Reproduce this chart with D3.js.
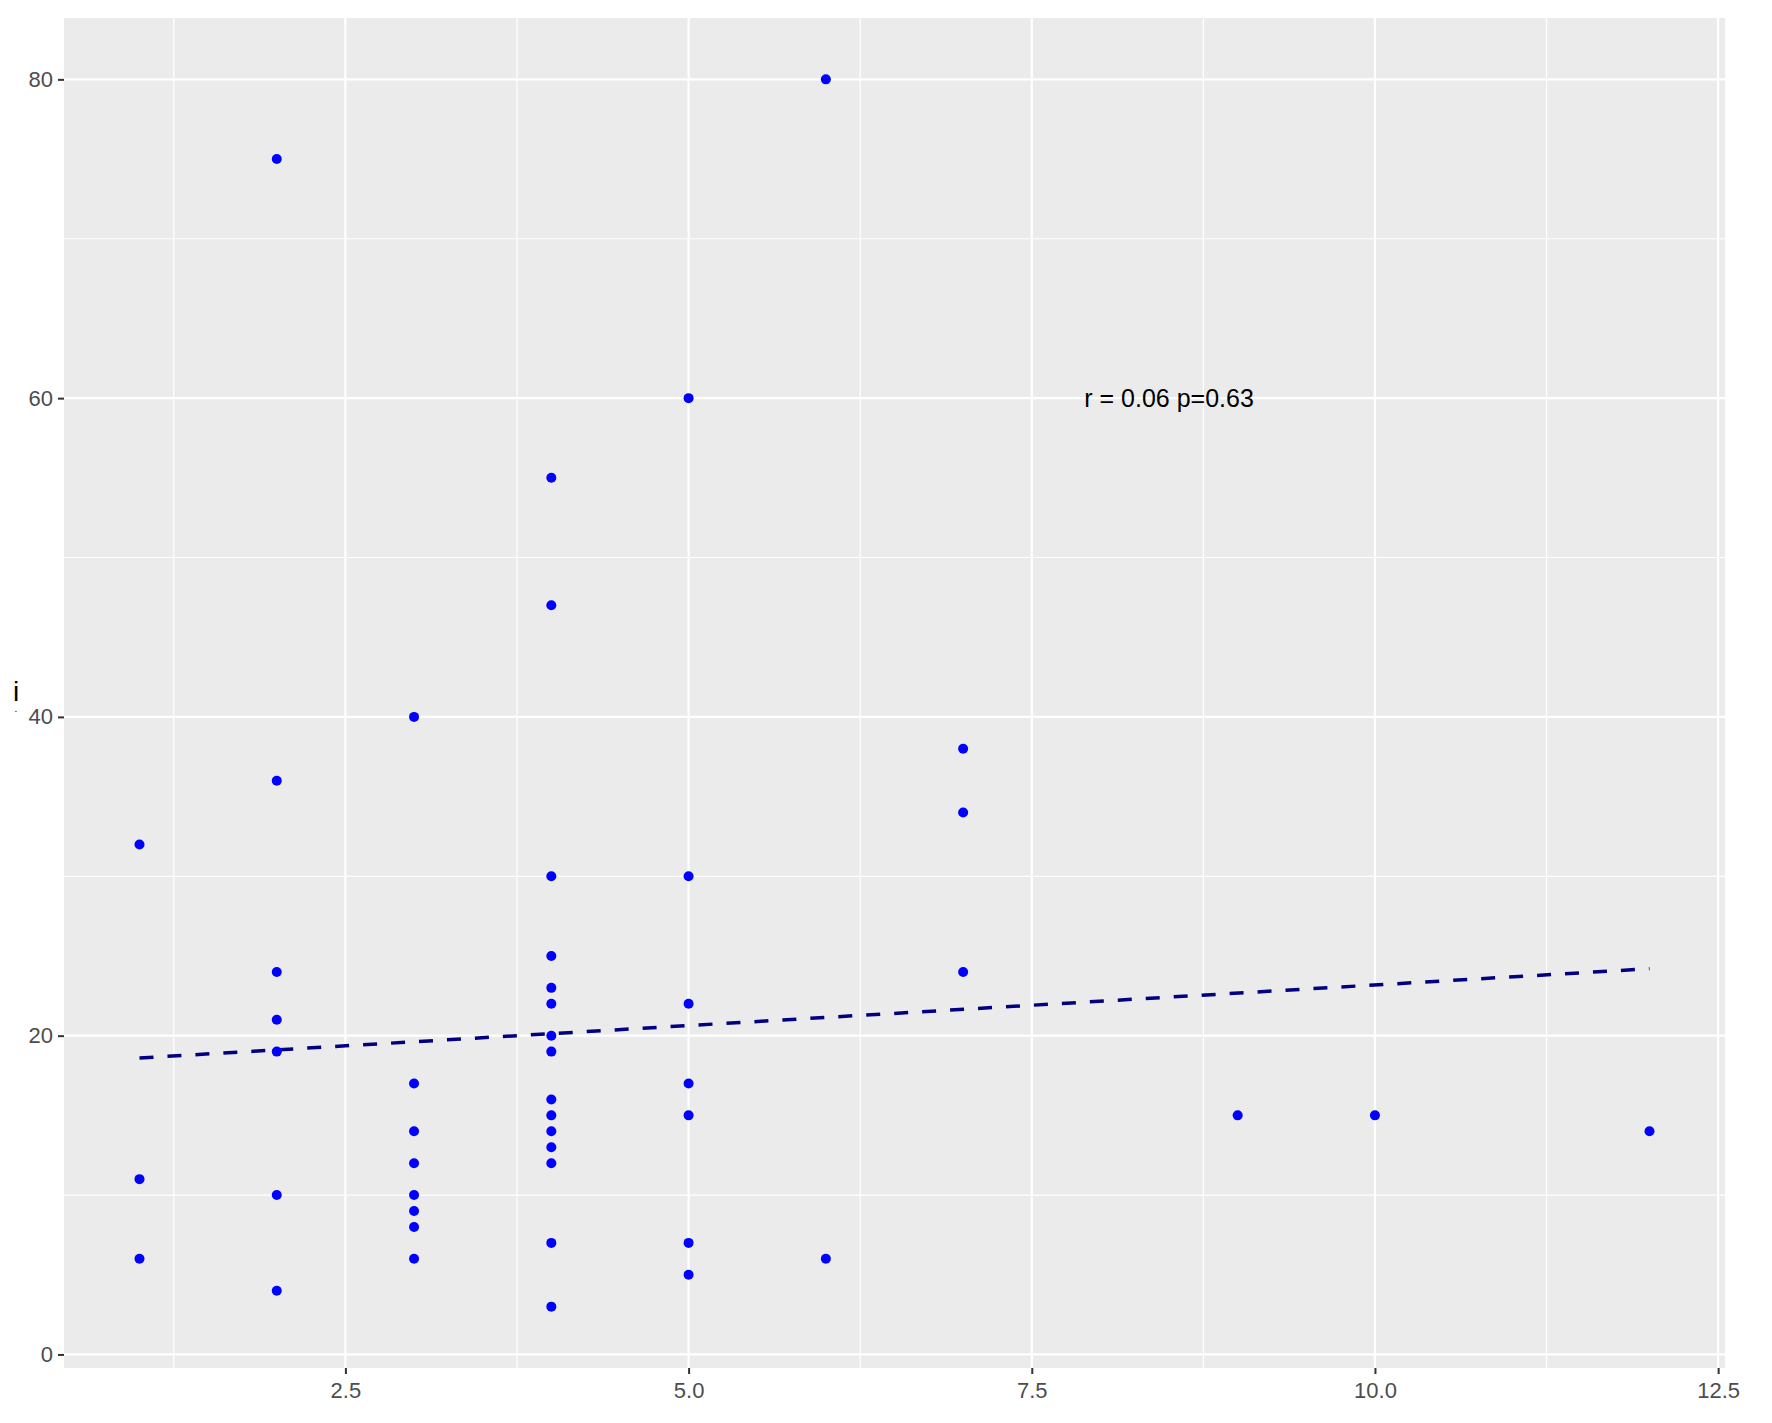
<!DOCTYPE html>
<html>
<head>
<meta charset="utf-8">
<script src="https://cdn.jsdelivr.net/npm/d3@7"></script>
<style>
  body { margin: 0; background: #fff; }
  text { font-family: "Liberation Sans", Arial, sans-serif; }
</style>
</head>
<body>
<div id="chart"></div>
<script>
// points (x, y pairs)
var xVals = [1, 1, 1,
  2, 2, 2, 2, 2, 2, 2,
  3, 3, 3, 3, 3, 3, 3, 3,
  4, 4, 4, 4, 4, 4, 4, 4, 4, 4, 4, 4, 4, 4, 4,
  5, 5, 5, 5, 5, 5, 5,
  6, 6,
  7, 7, 7,
  9, 10, 12];
var yVals = [32, 11, 6,
  75, 36, 24, 21, 19, 10, 4,
  40, 17, 14, 12, 10, 9, 8, 6,
  55, 47, 30, 25, 23, 22, 20, 19, 16, 15, 14, 13, 12, 7, 3,
  60, 30, 22, 17, 15, 7, 5,
  80, 6,
  38, 34, 24,
  15, 15, 14];

// dashed fit line ends
var fitX = [1, 12];
var fitY = [18.6, 24.2];

var xTicks = [2.5, 5.0, 7.5, 10.0, 12.5];
var xMinor = [1.25, 3.75, 6.25, 8.75, 11.25];
var yTicks = [0, 20, 40, 60, 80];
var yMinor = [10, 30, 50, 70];

var annotation = "r = 0.06 p=0.63";

var svgWidth = 1772;
var svgHeight = 1423;

var panel = { left: 64, right: 1725, top: 18, bottom: 1368 };

var svg = d3.select("#chart")
  .append("svg")
  .attr("width", svgWidth)
  .attr("height", svgHeight);

var x = d3.scaleLinear()
  .domain([0.45, 12.55])
  .range([panel.left, panel.right]);

var y = d3.scaleLinear()
  .domain([-0.85, 83.85])
  .range([panel.bottom, panel.top]);

// panel background
svg.append("rect")
  .attr("x", panel.left)
  .attr("y", panel.top)
  .attr("width", panel.right - panel.left)
  .attr("height", panel.bottom - panel.top)
  .attr("fill", "#EBEBEB");

// minor grid
svg.append("g").selectAll("line")
  .data(xMinor)
  .enter().append("line")
  .attr("x1", d => x(d)).attr("x2", d => x(d))
  .attr("y1", panel.top).attr("y2", panel.bottom)
  .attr("stroke", "#fff").attr("stroke-width", 1.2);

svg.append("g").selectAll("line")
  .data(yMinor)
  .enter().append("line")
  .attr("x1", panel.left).attr("x2", panel.right)
  .attr("y1", d => y(d)).attr("y2", d => y(d))
  .attr("stroke", "#fff").attr("stroke-width", 1.2);

// major grid
svg.append("g").selectAll("line")
  .data(xTicks)
  .enter().append("line")
  .attr("x1", d => x(d)).attr("x2", d => x(d))
  .attr("y1", panel.top).attr("y2", panel.bottom)
  .attr("stroke", "#fff").attr("stroke-width", 2.2);

svg.append("g").selectAll("line")
  .data(yTicks)
  .enter().append("line")
  .attr("x1", panel.left).attr("x2", panel.right)
  .attr("y1", d => y(d)).attr("y2", d => y(d))
  .attr("stroke", "#fff").attr("stroke-width", 2.2);

// axes
var bottomAxis = d3.axisBottom(x)
  .tickValues(xTicks)
  .tickFormat(d3.format(".1f"))
  .tickSize(6)
  .tickPadding(8);

var leftAxis = d3.axisLeft(y)
  .tickValues(yTicks)
  .tickFormat(d3.format("d"))
  .tickSize(6)
  .tickPadding(5);

var xAxis = svg.append("g")
  .attr("transform", `translate(0, ${panel.bottom})`)
  .call(bottomAxis);

var yAxis = svg.append("g")
  .attr("transform", `translate(${panel.left}, 0)`)
  .call(leftAxis);

[xAxis, yAxis].forEach(function (g) {
  g.select(".domain").remove();
  g.selectAll(".tick line").attr("stroke", "#333").attr("stroke-width", 2);
  g.selectAll(".tick text")
    .attr("fill", "#4D4D4D")
    .style("font-size", "22px")
    .style("font-family", "Liberation Sans, Arial, sans-serif");
});

// fit line
var line = d3.line()
  .x((d, i) => x(fitX[i]))
  .y(d => y(d));

svg.append("path")
  .datum(fitY)
  .attr("d", line)
  .attr("fill", "none")
  .attr("stroke", "#000080")
  .attr("stroke-width", 3.5)
  .attr("stroke-dasharray", "14 14");

// points
svg.append("g").selectAll("circle")
  .data(xVals)
  .enter()
  .append("circle")
  .attr("cx", d => x(d))
  .attr("cy", (d, i) => y(yVals[i]))
  .attr("r", 5)
  .attr("fill", "#0000FF");

// annotation
svg.append("text")
  .attr("x", x(8.5))
  .attr("y", y(60))
  .attr("text-anchor", "middle")
  .attr("dy", "0.35em")
  .style("font-size", "25px")
  .attr("fill", "#000")
  .text(annotation);

// y axis title
svg.append("text")
  .attr("x", 16)
  .attr("y", 701)
  .attr("text-anchor", "middle")
  .style("font-size", "28px")
  .attr("fill", "#000")
  .text("i");

svg.append("text")
  .attr("x", 16)
  .attr("y", 712)
  .attr("text-anchor", "middle")
  .style("font-size", "10px")
  .attr("fill", "#000")
  .text(".");
</script>
</body>
</html>
